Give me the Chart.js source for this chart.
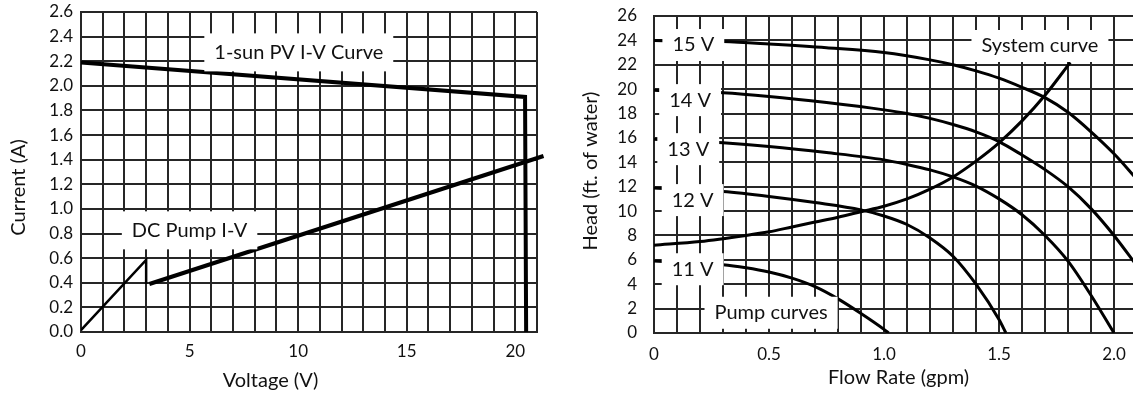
<!DOCTYPE html>
<html>
<head>
<meta charset="utf-8">
<script src="https://cdn.jsdelivr.net/npm/chart.js@4.4.1/dist/chart.umd.min.js"></script>
<style>
  html, body { margin: 0; padding: 0; background: #fff; overflow: hidden; width: 1133px; height: 400px; }
  #wrap { position: relative; width: 1133px; height: 400px; overflow: hidden; }
  #c1 { position: absolute; left: 0; top: 0; }
  #c2 { position: absolute; left: 570px; top: 0; }
</style>
</head>
<body>
<div id="wrap">
  <canvas id="c1" width="560" height="400"></canvas>
  <canvas id="c2" width="600" height="400"></canvas>
</div>
<script>
// ---------- Left chart data: PV I-V and DC pump I-V ----------
const pvVoltage = [0, 20.45, 20.5];
const pvCurrent = [2.19, 1.91, 0];
const pumpStartVoltage = [0, 3.0, 3.0];
const pumpStartCurrent = [0.015, 0.585, 0.39];
const pumpRunVoltage = [3.15, 21.3];
const pumpRunCurrent = [0.39, 1.43];
const leftLabels = ['1-sun PV I-V Curve', 'DC Pump I-V'];
const leftLabelV = [10.03, 5.0];
const leftLabelI = [2.272, 0.826];

// ---------- Right chart data: pump curves and system curve ----------
const flow15 = [0, 0.3, 0.5, 0.75, 1.0, 1.2, 1.3, 1.4, 1.5, 1.6, 1.7, 1.8, 1.9, 2.0, 2.1];
const head15 = [24.0, 23.9, 23.7, 23.4, 23.0, 22.4, 22.0, 21.5, 20.9, 20.15, 19.3, 18.1, 16.5, 14.7, 12.6];
const flow14 = [0, 0.3, 0.5, 0.75, 1.0, 1.1, 1.2, 1.3, 1.4, 1.5, 1.6, 1.7, 1.8, 1.9, 2.0, 2.1];
const head14 = [19.9, 19.7, 19.4, 18.9, 18.3, 18.0, 17.6, 17.1, 16.5, 15.7, 14.6, 13.4, 12.0, 10.2, 8.0, 5.5];
const flow13 = [0, 0.3, 0.5, 0.75, 1.0, 1.1, 1.2, 1.3, 1.4, 1.5, 1.6, 1.7, 1.8, 1.9, 2.0];
const head13 = [15.9, 15.6, 15.3, 14.8, 14.2, 13.82, 13.38, 12.8, 12.05, 11.0, 9.7, 8.0, 5.9, 3.1, 0];
const flow12 = [0, 0.3, 0.5, 0.7, 0.9, 1.0, 1.1, 1.2, 1.3, 1.4, 1.5, 1.53];
const head12 = [11.9, 11.6, 11.2, 10.7, 10.1, 9.6, 8.9, 7.8, 6.3, 4.0, 1.1, 0];
const flow11 = [0, 0.3, 0.4, 0.5, 0.6, 0.7, 0.8, 0.9, 1.0, 1.02];
const head11 = [5.9, 5.6, 5.35, 5.0, 4.5, 3.8, 2.8, 1.6, 0.3, 0];
const flowSystem = [0, 0.2, 0.4, 0.5, 0.6, 0.7, 0.8, 0.9, 1.0, 1.1, 1.2, 1.3, 1.4, 1.5, 1.6, 1.7, 1.81];
const headSystem = [7.2, 7.5, 8.0, 8.3, 8.7, 9.1, 9.5, 9.95, 10.4, 11.0, 11.8, 12.8, 14.1, 15.6, 17.4, 19.5, 22.2];
const rightLabels = ['15 V', '14 V', '13 V', '12 V', '11 V', 'Pump curves', 'System curve'];
const rightLabelFlow = [0.171, 0.157, 0.149, 0.168, 0.168, 0.509, 1.678];
const rightLabelHead = [23.62, 19.1, 15.08, 10.9, 5.23, 1.66, 23.54];

// ---------- helpers ----------
const pts = (xs, ys) => xs.map((x, i) => ({ x: x, y: ys[i] }));
const INK = '#111111';
const GRID = '#262626';
const FONT = 'Lato, "Open Sans", sans-serif';
Chart.defaults.font.family = FONT;
Chart.defaults.color = INK;

const notesPlugin = {
  id: 'notes',
  afterDatasetsDraw(chart, args, opts) {
    const ctx = chart.ctx;
    const xs = chart.scales.x, ys = chart.scales.y;
    ctx.save();
    ctx.font = opts.size + 'px ' + FONT;
    ctx.textAlign = 'center';
    ctx.textBaseline = 'middle';
    opts.texts.forEach((t, i) => {
      const cx = xs.getPixelForValue(opts.xs[i]);
      const cy = ys.getPixelForValue(opts.ys[i]);
      const w = ctx.measureText(t).width + 2 * opts.padX;
      ctx.fillStyle = '#ffffff';
      ctx.fillRect(cx - w / 2, cy - opts.boxH / 2, w, opts.boxH);
      ctx.fillStyle = INK;
      ctx.fillText(t, cx, cy);
    });
    ctx.restore();
  },
  afterDraw(chart, args, opts) {
    const ctx = chart.ctx;
    const a = chart.chartArea;
    ctx.save();
    ctx.font = opts.titleSize + 'px ' + FONT;
    ctx.fillStyle = INK;
    ctx.textAlign = 'center';
    ctx.textBaseline = 'middle';
    ctx.fillText(opts.xTitle, a.left + opts.xTitleDX, opts.xTitleY);
    ctx.translate(opts.yTitleX, a.top + opts.yTitleDY);
    ctx.rotate(-Math.PI / 2);
    ctx.fillText(opts.yTitle, 0, 0);
    ctx.restore();
  }
};

function lineSet(xs, ys, width, extra) {
  return Object.assign({
    data: pts(xs, ys),
    showLine: true,
    borderColor: '#000',
    backgroundColor: '#000',
    borderWidth: width,
    pointRadius: 0,
    pointHoverRadius: 0,
    fill: false
  }, extra || {});
}

function fixSize(prop, value) {
  return function (s) {
    s[prop] = value;
    s.paddingTop = 0; s.paddingBottom = 0; s.paddingLeft = 0; s.paddingRight = 0;
  };
}

function axisCommon() {
  return {
    type: 'linear',
    grid: { color: GRID, lineWidth: 2, drawTicks: false },
    border: { color: GRID, width: 2 },
  };
}

// ---------- Left chart ----------
new Chart(document.getElementById('c1'), {
  type: 'scatter',
  data: {
    datasets: [
      lineSet(pvVoltage, pvCurrent, 4),
      lineSet(pumpStartVoltage, pumpStartCurrent, 2.5),
      lineSet(pumpRunVoltage, pumpRunCurrent, 4, { clip: false })
    ]
  },
  options: {
    responsive: false,
    animation: false,
    devicePixelRatio: 1,
    layout: { padding: { top: 12, right: 23, left: 0, bottom: 0 } },
    plugins: {
      legend: { display: false },
      tooltip: { enabled: false },
      notes: {
        texts: leftLabels, xs: leftLabelV, ys: leftLabelI,
        size: 20, padX: 10, boxH: 38,
        titleSize: 20,
        xTitle: 'Voltage (V)', xTitleDX: 189.5, xTitleY: 381,
        yTitle: 'Current (A)', yTitleX: 19, yTitleDY: 175.5
      }
    },
    scales: {
      x: Object.assign(axisCommon(), {
        min: 0, max: 21,
        afterFit: fixSize('height', 68),
        ticks: {
          stepSize: 1, autoSkip: false, maxRotation: 0, padding: 9,
          font: { size: 17 }, color: INK,
          callback: v => (Math.round(v) % 5 === 0 ? String(Math.round(v)) : '')
        }
      }),
      y: Object.assign(axisCommon(), {
        min: 0, max: 2.6,
        afterFit: fixSize('width', 81),
        ticks: {
          stepSize: 0.2, autoSkip: false, padding: 8,
          font: { size: 17 }, color: INK,
          callback: v => Number(v).toFixed(1)
        }
      })
    }
  },
  plugins: [notesPlugin]
});

// ---------- Right chart ----------
new Chart(document.getElementById('c2'), {
  type: 'scatter',
  data: {
    datasets: [
      lineSet(flow15, head15, 3, { cubicInterpolationMode: 'monotone' }),
      lineSet(flow14, head14, 3, { cubicInterpolationMode: 'monotone' }),
      lineSet(flow13, head13, 3, { cubicInterpolationMode: 'monotone' }),
      lineSet(flow12, head12, 3, { cubicInterpolationMode: 'monotone' }),
      lineSet(flow11, head11, 3, { cubicInterpolationMode: 'monotone' }),
      lineSet(flowSystem, headSystem, 3, { cubicInterpolationMode: 'monotone' })
    ]
  },
  options: {
    responsive: false,
    animation: false,
    devicePixelRatio: 1,
    layout: { padding: { top: 16, right: 10, left: 0, bottom: 0 } },
    plugins: {
      legend: { display: false },
      tooltip: { enabled: false },
      notes: {
        texts: rightLabels, xs: rightLabelFlow, ys: rightLabelHead,
        size: 20, padX: 10, boxH: 32,
        titleSize: 20,
        xTitle: 'Flow Rate (gpm)', xTitleDX: 244.5, xTitleY: 378,
        yTitle: 'Head (ft. of water)', yTitleX: 21, yTitleDY: 155
      }
    },
    scales: {
      x: Object.assign(axisCommon(), {
        min: 0, max: 2.2,
        afterFit: fixSize('height', 67),
        ticks: {
          stepSize: 0.1, autoSkip: false, maxRotation: 0, padding: 11,
          font: { size: 17 }, color: INK,
          callback: v => {
            const h = v * 2;
            if (Math.abs(h - Math.round(h)) > 1e-6) return '';
            return Math.abs(v) < 1e-9 ? '0' : Number(v).toFixed(1);
          }
        }
      }),
      y: Object.assign(axisCommon(), {
        min: 0, max: 26,
        afterFit: fixSize('width', 84),
        ticks: {
          stepSize: 2, autoSkip: false, padding: 17,
          font: { size: 17 }, color: INK,
          callback: v => String(v)
        }
      })
    }
  },
  plugins: [notesPlugin]
});
</script>
</body>
</html>
